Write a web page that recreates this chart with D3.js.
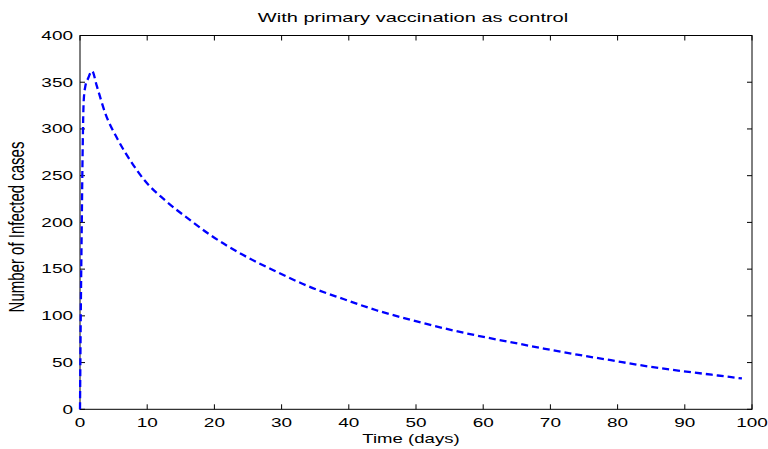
<!DOCTYPE html>
<html>
<head>
<meta charset="utf-8">
<script src="https://cdn.jsdelivr.net/npm/d3@7"></script>
<style>
  html, body { margin: 0; padding: 0; background: #fff; }
  text { font-family: "Liberation Sans", Arial, Helvetica, sans-serif; fill: #000; }
</style>
</head>
<body>
<svg id="chart" width="768" height="449"></svg>
<script>
// ---- data ----
const timeDays = [0, 0.1, 0.25, 0.4, 0.55, 0.8, 1.2, 1.8, 2.5, 3.7, 5.6, 7.6, 9.6, 12.6, 16.1, 19.3,
  24.3, 29.3, 34.2, 39.2, 44.1, 49.1, 54, 59, 64, 69, 74, 79, 84, 89, 94, 98.5];
const infected = [0, 90, 190, 280, 330, 346, 354, 362, 346, 318, 289, 265, 245, 224, 204, 187,
  165, 147, 131, 118, 106, 96, 87, 79, 72, 65, 58.5, 52.5, 46.5, 41.5, 37, 33];
const xTicks = [0, 10, 20, 30, 40, 50, 60, 70, 80, 90, 100];
const yTicks = [0, 50, 100, 150, 200, 250, 300, 350, 400];
const titleText = "With primary vaccination as control";
const xLabel = "Time (days)";
const yLabel = "Number of Infected cases";

// ---- layout ----
const svg = d3.select("#chart");
const L = 80, R = 752, T = 35.5, B = 409.3;
const x = d3.scaleLinear().domain([0, 100]).range([L, R]);
const y = d3.scaleLinear().domain([0, 400]).range([B, T]);
const SX = 1.58; // horizontal stretch of text
const FS = 12;

// box
svg.append("rect").attr("x", L).attr("y", T).attr("width", R - L).attr("height", B - T)
  .attr("fill", "none").attr("stroke", "#000").attr("stroke-width", 1);

// ticks (inward) on all 4 sides
const tk = 5;
const g = svg.append("g").attr("stroke", "#000").attr("stroke-width", 1);
xTicks.forEach(t => {
  g.append("line").attr("x1", x(t)).attr("x2", x(t)).attr("y1", B).attr("y2", B - tk);
  g.append("line").attr("x1", x(t)).attr("x2", x(t)).attr("y1", T).attr("y2", T + tk);
});
yTicks.forEach(t => {
  g.append("line").attr("x1", L).attr("x2", L + tk).attr("y1", y(t)).attr("y2", y(t));
  g.append("line").attr("x1", R).attr("x2", R - tk).attr("y1", y(t)).attr("y2", y(t));
});

// tick labels
xTicks.forEach(t => {
  svg.append("text").attr("transform", `translate(${x(t)},${427}) scale(${SX},1)`)
    .attr("text-anchor", "middle").attr("font-size", FS).text(t);
});
yTicks.forEach(t => {
  svg.append("text").attr("transform", `translate(${L - 7},${y(t) + 4.3}) scale(${SX},1)`)
    .attr("text-anchor", "end").attr("font-size", FS).text(t);
});

// title
svg.append("text").attr("transform", `translate(413,22) scale(1.67,1)`)
  .attr("text-anchor", "middle").attr("font-size", FS).text(titleText);

// x label
svg.append("text").attr("transform", `translate(411,443) scale(1.55,1)`)
  .attr("text-anchor", "middle").attr("font-size", FS).text(xLabel);

// y label
svg.append("text").attr("transform", `translate(24,227) rotate(-90) scale(1,1.45)`)
  .attr("text-anchor", "middle").attr("font-size", 15).text(yLabel);

// line
const pts = timeDays.map((t, i) => [t, infected[i]]);
const line = d3.line().x(d => x(d[0])).y(d => y(d[1])).curve(d3.curveMonotoneX);
svg.append("path").datum(pts).attr("d", line)
  .attr("fill", "none").attr("stroke", "#0000ff").attr("stroke-width", 2.3)
  .attr("stroke-dasharray", "7,4");
</script>
</body>
</html>
